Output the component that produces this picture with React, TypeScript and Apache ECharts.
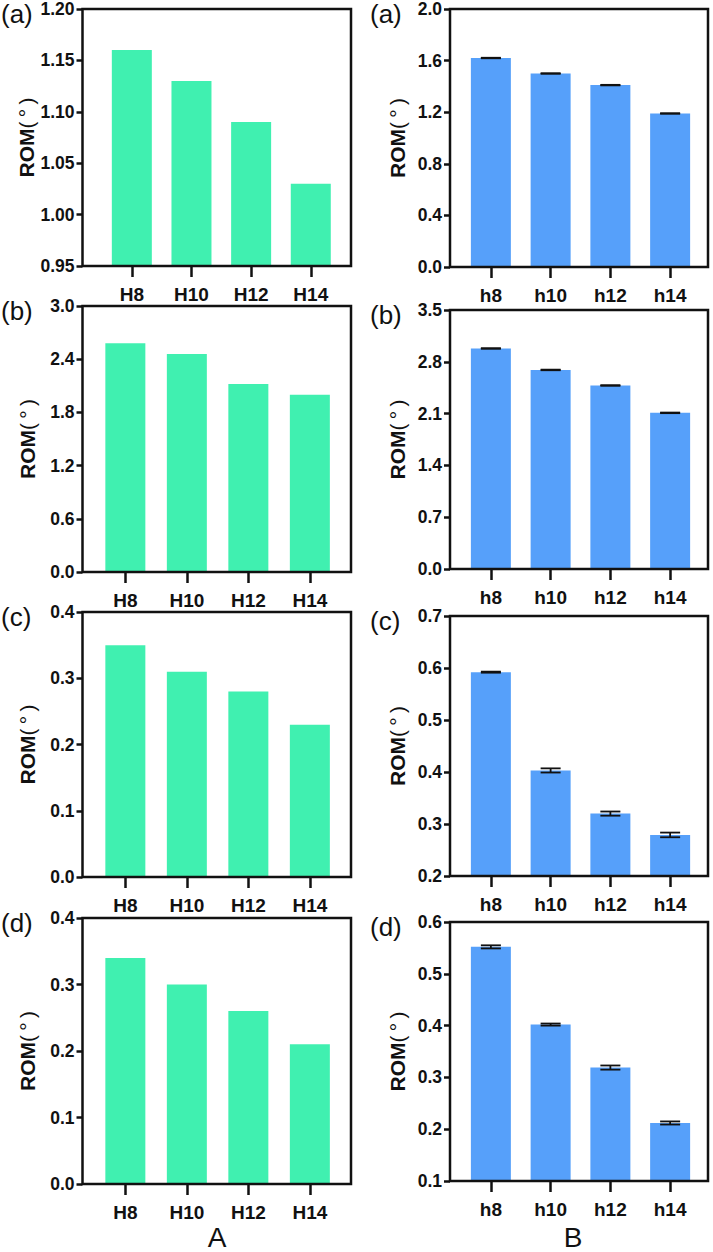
import React, { useEffect, useRef } from "react";
import * as echarts from "echarts";

// ---------- data ----------
const catsA = ["H8", "H10", "H12", "H14"];
const catsB = ["h8", "h10", "h12", "h14"];

const romAa = [1.16, 1.13, 1.09, 1.03];
const romAb = [2.58, 2.46, 2.12, 2.0];
const romAc = [0.35, 0.31, 0.28, 0.23];
const romAd = [0.34, 0.3, 0.26, 0.21];

const romBa = [1.62, 1.5, 1.41, 1.19];
const errBa = [0.002, 0.002, 0.002, 0.002];
const romBb = [2.98, 2.69, 2.48, 2.11];
const errBb = [0.004, 0.004, 0.004, 0.004];
const romBc = [0.592, 0.403, 0.32, 0.279];
const errBc = [0.001, 0.004, 0.004, 0.0045];
const romBd = [0.552, 0.402, 0.319, 0.212];
const errBd = [0.003, 0.002, 0.004, 0.003];

// y axis scales (min, max, step, decimals)
const yMinA = [0.95, 0, 0, 0];
const yMaxA = [1.2, 3.0, 0.4, 0.4];
const yStepA = [0.05, 0.6, 0.1, 0.1];
const yDecA = [2, 1, 1, 1];

const yMinB = [0, 0, 0.2, 0.1];
const yMaxB = [2.0, 3.5, 0.7, 0.6];
const yStepB = [0.4, 0.7, 0.1, 0.1];
const yDecB = [1, 1, 1, 1];

const panelTags = ["(a)", "(b)", "(c)", "(d)"];
const groupLabels = ["A", "B"];
const yName = "ROM";
const yUnit = "(\u2009°\u2009)";

// ---------- layout / style ----------
const GREEN = "#40F0B0";
const BLUE = "#56A0FA";
const INK = "#111111";
const FONT = "Liberation Sans, Arial, sans-serif";

const colA = { frameLeft: 82.5, frameWidth: 268.5 };
const colB = { frameLeft: 450, frameWidth: 258, innerLeft: 461, innerWidth: 239 };
const topsA = [9, 306, 612, 918];
const heightsA = [257, 266, 265, 266];
const innerA = [
  { left: 102, width: 238.6 },
  { left: 94.6, width: 246 },
  { left: 94.6, width: 246 },
  { left: 94.6, width: 246 },
];
const topsB = [9, 310, 616, 922];
const heightsB = [258, 259, 260, 259];

export default function App() {
  const ref = useRef<HTMLDivElement>(null);

  useEffect(() => {
    if (!ref.current) return;
    const chart = echarts.init(ref.current, undefined, { renderer: "svg" });

    const valsA = [romAa, romAb, romAc, romAd];
    const valsB = [romBa, romBb, romBc, romBd];
    const errsB = [errBa, errBb, errBc, errBd];

    const grid: any[] = [];
    const xAxis: any[] = [];
    const yAxis: any[] = [];
    const series: any[] = [];
    const graphic: any[] = [];

    const errRender = (params: any, api: any) => {
      const x = api.value(0);
      const y = api.value(1);
      const e = api.value(2);
      const top = api.coord([x, y + e]);
      const bot = api.coord([x, y - e]);
      const hw = 10;
      const style = { stroke: INK, lineWidth: 1.8 };
      return {
        type: "group",
        children: [
          { type: "line", shape: { x1: top[0], y1: top[1], x2: bot[0], y2: bot[1] }, style },
          { type: "line", shape: { x1: top[0] - hw, y1: top[1], x2: top[0] + hw, y2: top[1] }, style },
          { type: "line", shape: { x1: bot[0] - hw, y1: bot[1], x2: bot[0] + hw, y2: bot[1] }, style },
        ],
      };
    };

    const addPanel = (p: any) => {
      // frame grid
      const fi = grid.length;
      grid.push({
        left: p.frameLeft,
        top: p.top,
        width: p.frameWidth,
        height: p.height,
        show: true,
        borderColor: INK,
        borderWidth: 2.5,
        backgroundColor: "transparent",
        z: 10,
      });
      xAxis.push({ gridIndex: fi, type: "value", show: false });
      yAxis.push({ gridIndex: fi, type: "value", show: false });
      // inner grid
      const ii = grid.length;
      grid.push({ left: p.innerLeft, top: p.top, width: p.innerWidth, height: p.height, show: false });
      const xi = xAxis.length;
      xAxis.push({
        gridIndex: ii,
        type: "category",
        data: p.cats,
        axisLine: { show: false, onZero: false },
        axisTick: { show: true, alignWithLabel: true, length: 11, lineStyle: { color: INK, width: 2.5 } },
        axisLabel: {
          margin: 19,
          color: INK,
          fontSize: 19,
          fontWeight: "bold",
          fontFamily: FONT,
        },
      });
      const yi = yAxis.length;
      const dec = p.dec;
      yAxis.push({
        gridIndex: ii,
        type: "value",
        min: p.min,
        max: p.max,
        interval: p.step,
        offset: p.innerLeft - p.frameLeft,
        axisLine: { show: false },
        axisTick: { show: true, length: 6, lineStyle: { color: INK, width: 2.5 } },
        splitLine: { show: false },
        axisLabel: {
          margin: 8,
          color: INK,
          fontSize: 17.5,
          fontWeight: "bold",
          fontFamily: FONT,
          formatter: (v: number) => v.toFixed(dec),
        },
        name: "{b|" + yName + "}{c|" + yUnit + "}",
        nameLocation: "middle",
        nameGap: p.nameGap,
        nameTextStyle: {
          color: INK,
          rich: {
            b: { fontSize: 21, fontWeight: "bold", fontFamily: FONT, color: INK },
            c: { fontSize: 21, fontFamily: FONT, color: INK },
          },
        },
      });
      series.push({
        type: "bar",
        xAxisIndex: xi,
        yAxisIndex: yi,
        data: p.vals,
        barWidth: 40,
        itemStyle: { color: p.color },
      });
      if (p.errs) {
        series.push({
          type: "custom",
          xAxisIndex: xi,
          yAxisIndex: yi,
          renderItem: errRender,
          data: p.vals.map((v: number, k: number) => [k, v, p.errs[k]]),
          encode: { x: 0, y: 1 },
          z: 5,
        });
      }
      graphic.push({
        type: "text",
        x: p.tagX,
        y: p.top + 5,
        style: {
          text: p.tag,
          fontSize: 26,
          fontFamily: FONT,
          fill: INK,
          align: "left",
          verticalAlign: "middle",
        },
      });
    };

    for (let i = 0; i < 4; i++) {
      addPanel({
        frameLeft: colA.frameLeft,
        frameWidth: colA.frameWidth,
        innerLeft: innerA[i].left,
        innerWidth: innerA[i].width,
        top: topsA[i],
        height: heightsA[i],
        cats: catsA,
        vals: valsA[i],
        min: yMinA[i],
        max: yMaxA[i],
        step: yStepA[i],
        dec: yDecA[i],
        color: GREEN,
        nameGap: 45,
        tag: panelTags[i],
        tagX: 1,
      });
      addPanel({
        frameLeft: colB.frameLeft,
        frameWidth: colB.frameWidth,
        innerLeft: colB.innerLeft,
        innerWidth: colB.innerWidth,
        top: topsB[i],
        height: heightsB[i],
        cats: catsB,
        vals: valsB[i],
        errs: errsB[i],
        min: yMinB[i],
        max: yMaxB[i],
        step: yStepB[i],
        dec: yDecB[i],
        color: BLUE,
        nameGap: 42,
        tag: panelTags[i],
        tagX: 370,
      });
    }

    const groupX = [217, 573];
    groupLabels.forEach((g, k) => {
      graphic.push({
        type: "text",
        x: groupX[k],
        y: 1251,
        style: {
          text: g,
          fontSize: 28,
          fontFamily: FONT,
          fill: INK,
          align: "center",
          verticalAlign: "bottom",
        },
      });
    });

    chart.setOption({
      animation: false,
      backgroundColor: "#ffffff",
      grid,
      xAxis,
      yAxis,
      series,
      graphic,
    });

    return () => chart.dispose();
  }, []);

  return (
    <div
      ref={ref}
      style={{ position: "absolute", left: 0, top: 0, width: 713, height: 1252 }}
    />
  );
}
